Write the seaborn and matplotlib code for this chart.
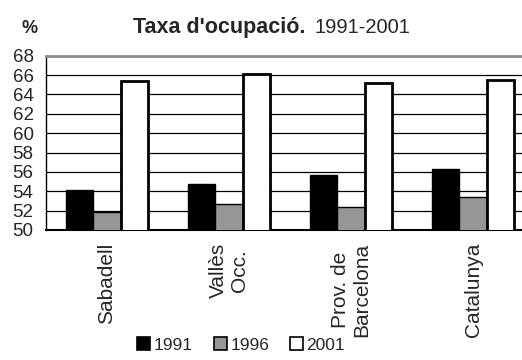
import pandas as pd
import matplotlib.pyplot as plt
import matplotlib.patches as mpatches
import seaborn as sns

# data
zones = ["Sabadell", "Vallès\nOcc.", "Prov. de\nBarcelona", "Catalunya"]
years = ["1991", "1996", "2001"]
rate_1991 = [54.1, 54.8, 55.7, 56.3]
rate_1996 = [51.9, 52.7, 52.4, 53.4]
rate_2001 = [65.4, 66.1, 65.2, 65.5]
y_ticks = list(range(50, 70, 2))

colors = ["black", "#969696", "white"]

df = pd.DataFrame({
    "zona": zones * 3,
    "any": [y for y in years for _ in zones],
    "taxa": rate_1991 + rate_1996 + rate_2001,
})

sns.set_style("white")
plt.rcParams["font.family"] = ["Liberation Sans", "DejaVu Sans"]

fig = plt.figure(figsize=(5.22, 3.6), dpi=100)
ax = fig.add_axes([46 / 522, 130 / 360, 488 / 522, 174.3 / 360])

sns.barplot(data=df, x="zona", y="taxa", hue="any", palette=colors,
            width=0.672, edgecolor="black", linewidth=1, legend=False,
            saturation=1, ax=ax, zorder=3)

# thicker outline on the white bars
for bar in ax.containers[2]:
    bar.set_linewidth(2)

ax.set_ylim(50, 68)
ax.set_xlim(-0.5, 3.5)
ax.set_yticks(y_ticks)
ax.set_yticklabels([str(t) for t in y_ticks], fontsize=13.5)
ax.set_xticks(range(len(zones)))
ax.set_xticklabels(zones, rotation=90, fontsize=15, multialignment="center")
ax.set_xticks([-0.5, 0.5, 1.5, 2.5], minor=True)
ax.tick_params(axis="x", which="major", length=0, pad=9)
ax.tick_params(axis="x", which="minor", length=6, width=1, color="black", direction="out")
ax.tick_params(axis="y", length=6, width=1, color="black", direction="out", pad=3)
ax.set_xlabel("")
ax.set_ylabel("")

ax.grid(axis="y", color="black", linewidth=0.9, zorder=0)
ax.set_axisbelow(True)
ax.spines["top"].set_color("#8c8c8c")
ax.spines["top"].set_linewidth(2)
ax.spines["right"].set_color("#8c8c8c")
ax.spines["left"].set_color("black")
ax.spines["left"].set_linewidth(1)
ax.spines["bottom"].set_color("black")
ax.spines["bottom"].set_linewidth(1.5)

# title
fig.text(22 / 522, 0.908, "%", fontsize=13, fontweight="bold", va="baseline")
fig.text(133 / 522, 0.908, "Taxa d'ocupació.", fontsize=15.5, fontweight="bold", va="baseline")
fig.text(315 / 522, 0.908, "1991-2001", fontsize=14.5, va="baseline")

handles = [mpatches.Patch(facecolor=c, edgecolor="black", linewidth=1.2) for c in colors]
fig.legend(handles, years, loc="center", bbox_to_anchor=(0.462, 0.042), ncol=3,
           frameon=False, fontsize=12.5, handlelength=0.75, handleheight=0.75,
           handletextpad=0.2, columnspacing=1.2)

fig.savefig("out.png", dpi=100)
